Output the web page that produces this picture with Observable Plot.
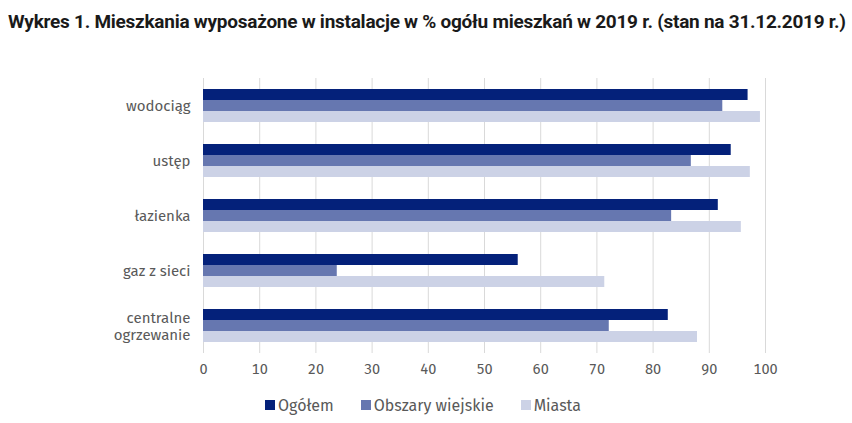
<!DOCTYPE html>
<html><head><meta charset="utf-8">
<script src="https://cdn.jsdelivr.net/npm/d3@7"></script>
<script src="https://cdn.jsdelivr.net/npm/@observablehq/plot@0.6"></script>
<style>
body{margin:0;background:#fff;width:852px;height:423px;overflow:hidden;font-family:"Fira Sans","Open Sans",sans-serif}
#title svg{display:block}
#chart svg{display:block}
#legend{display:flex;justify-content:center;align-items:center;gap:27px;height:44px;font-size:16px;color:#595959;padding-right:6px}
#legend .item{display:flex;align-items:center}
#legend .sw{width:10px;height:10px;margin-right:3px}
</style></head><body>
<div id="title"></div><div id="chart"></div><div id="legend"></div>
<script>
const titleText = "Wykres 1. Mieszkania wyposażone w instalacje w % ogółu mieszkań w 2019 r. (stan na 31.12.2019 r.)";
const categories = ["wodociąg", "ustęp", "łazienka", "gaz z sieci", "centralne ogrzewanie"];
const series = ["Ogółem", "Obszary wiejskie", "Miasta"];
const ogolem = [96.9, 93.9, 91.6, 56.0, 82.7];
const obszaryWiejskie = [92.4, 86.8, 83.3, 23.8, 72.2];
const miasta = [99.1, 97.3, 95.7, 71.4, 87.9];
const xTicks = [0, 10, 20, 30, 40, 50, 60, 70, 80, 90, 100];
const colors = ["#04217a", "#6677b0", "#ccd2e6"];

const seriesValues = [ogolem, obszaryWiejskie, miasta];
const data = [];
categories.forEach((c, i) => series.forEach((s, j) => data.push({category: c, series: s, value: seriesValues[j][i]})));

// title
const ns = "http://www.w3.org/2000/svg";
const tsvg = document.createElementNS(ns, "svg");
tsvg.setAttribute("width", 852); tsvg.setAttribute("height", 40);
const tt = document.createElementNS(ns, "text");
tt.setAttribute("x", 8); tt.setAttribute("y", 28);
tt.setAttribute("font-family", "'Roboto',sans-serif");
tt.setAttribute("font-weight", "bold"); tt.setAttribute("font-size", 19);
tt.setAttribute("fill", "#1a1a1a");
tt.textContent = titleText;
tsvg.appendChild(tt);
document.getElementById("title").appendChild(tsvg);
const natural = tt.getComputedTextLength();
if (natural > 838) {
  const ls = (838 - natural) / (titleText.length - 1);
  tt.setAttribute("letter-spacing", ls.toFixed(3));
}

const chart = Plot.plot({
  width: 852, height: 343,
  marginTop: 38, marginBottom: 30, marginLeft: 203, marginRight: 87,
  style: {color: "#595959", fontFamily: "'Fira Sans','Open Sans',sans-serif", background: "#fff"},
  x: {domain: [0, 100], label: null},
  y: {domain: series, axis: null, paddingInner: 0, paddingOuter: 0.93},
  fy: {domain: categories, paddingInner: 0, paddingOuter: 0, label: null, axis: null},
  color: {domain: series, range: colors},
  marks: [
    Plot.gridX(xTicks, {stroke: "#d9d9d9", strokeOpacity: 1, strokeWidth: 1}),
    Plot.barX(data, {x: "value", y: "series", fy: "category", fill: "series", inset: 0}),
    Plot.axisX(xTicks, {tickSize: 0, tickPadding: 10, fontSize: 14.5, label: null}),
    Plot.axisFy({anchor: "left", tickSize: 0, tickPadding: 13, fontSize: 15, lineHeight: 1.1, label: null,
      tickFormat: d => d === "centralne ogrzewanie" ? "centralne\nogrzewanie" : d})
  ]
});
document.getElementById("chart").appendChild(chart);

const lg = document.getElementById("legend");
series.forEach((s, j) => {
  const it = document.createElement("div"); it.className = "item";
  const sw = document.createElement("span"); sw.className = "sw"; sw.style.background = colors[j];
  const lb = document.createElement("span"); lb.textContent = s;
  it.appendChild(sw); it.appendChild(lb); lg.appendChild(it);
});
</script>
</body></html>
